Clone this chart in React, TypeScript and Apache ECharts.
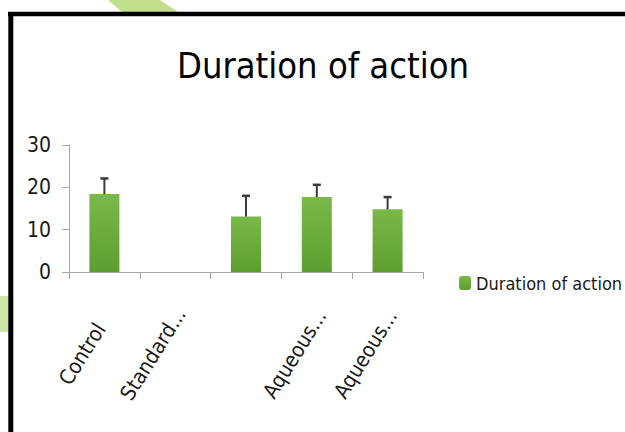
import React, { useEffect, useRef } from "react";
import * as echarts from "echarts";

const categories = ["Control", "Standard...", "", "Aqueous...", "Aqueous..."];
const meanValues: (number | null)[] = [18.4, null, 13.1, 17.7, 14.8];
const errorValues: (number | null)[] = [3.7, null, 4.9, 2.9, 2.9];
const yTicks = { min: 0, max: 30, interval: 10 };
const seriesName = "Duration of action";
const titleText = "Duration of action";

const FONT = "'Liberation Sans Narrow', 'DejaVu Sans Condensed', 'Open Sans', sans-serif";

export default function App() {
  const ref = useRef<HTMLDivElement>(null);
  useEffect(() => {
    if (!ref.current) return;
    const chart = echarts.init(ref.current, undefined, { renderer: "svg" });
    const errData = categories.map((_, i) =>
      meanValues[i] == null || errorValues[i] == null
        ? [i, null, null]
        : [i, meanValues[i], (meanValues[i] as number) + (errorValues[i] as number)]
    );
    chart.setOption({
      animation: false,
      backgroundColor: "#ffffff",
      textStyle: { fontFamily: FONT },
      title: {
        text: titleText,
        left: 318,
        top: 42,
        textAlign: "center",
        textStyle: { fontFamily: FONT, fontSize: 36, fontWeight: "normal", color: "#000" },
      },
      legend: {
        data: [seriesName],
        left: 454,
        top: 269,
        itemWidth: 12,
        itemHeight: 14,
        itemGap: 6,
        textStyle: { fontFamily: FONT, fontSize: 18, color: "#1a1a1a" },
      },
      grid: { left: 69, right: 202, top: 145, bottom: 160, containLabel: false },
      xAxis: {
        type: "category",
        data: categories,
        axisLine: { lineStyle: { color: "#a6a6a6", width: 1 } },
        axisTick: { show: true, length: 7, lineStyle: { color: "#a6a6a6" } },
        axisLabel: {
          interval: 0,
          rotate: 58,
          margin: 47,
          align: "center",
          verticalAlign: "middle",
          padding: [0, 83, 0, 0],
          fontFamily: FONT,
          fontSize: 21,
          color: "#1a1a1a",
        },
      },
      yAxis: {
        type: "value",
        min: yTicks.min,
        max: yTicks.max,
        interval: yTicks.interval,
        splitLine: { show: false },
        axisLine: { show: true, lineStyle: { color: "#a6a6a6", width: 1 } },
        axisTick: { show: true, length: 7, lineStyle: { color: "#a6a6a6" } },
        axisLabel: { margin: 18, fontFamily: FONT, fontSize: 21, color: "#1a1a1a" },
      },
      series: [
        {
          name: seriesName,
          type: "bar",
          data: meanValues,
          barWidth: 30,
          itemStyle: {
            color: new echarts.graphic.LinearGradient(0, 0, 0, 1, [
              { offset: 0, color: "#79b94a" },
              { offset: 1, color: "#5c9e2f" },
            ]),
          },
        },
        {
          name: "err",
          type: "custom",
          data: errData,
          z: 5,
          renderItem: (params: any, api: any) => {
            const lo = api.value(1);
            const hi = api.value(2);
            if (lo == null || hi == null || isNaN(lo) || isNaN(hi)) return null;
            const p0 = api.coord([api.value(0), lo]);
            const p1 = api.coord([api.value(0), hi]);
            const style = { stroke: "#3a3a3a", lineWidth: 2 };
            return {
              type: "group",
              children: [
                { type: "line", shape: { x1: p0[0], y1: p0[1], x2: p1[0], y2: p1[1] }, style },
                { type: "line", shape: { x1: p1[0] - 4, y1: p1[1], x2: p1[0] + 4, y2: p1[1] }, style: { stroke: "#3a3a3a", lineWidth: 2.5 } },
              ],
            };
          },
        },
      ],
      graphic: [
        {
          type: "polygon",
          shape: { points: [[108, 0], [160, 0], [178, 12], [122, 12]] },
          style: { fill: "#c4df8c" },
          z: 100,
        },
        {
          type: "rect",
          shape: { x: 0, y: 296, width: 9, height: 36 },
          style: { fill: "#cfe5a4" },
          z: 100,
        },
        {
          type: "line",
          shape: { x1: 8, y1: 14, x2: 625, y2: 14 },
          style: { stroke: "#000", lineWidth: 4.5 },
          z: 101,
        },
        {
          type: "line",
          shape: { x1: 10.8, y1: 12, x2: 10.8, y2: 432 },
          style: { stroke: "#000", lineWidth: 5 },
          z: 101,
        },
      ],
    });
    return () => chart.dispose();
  }, []);
  return <div ref={ref} style={{ width: 625, height: 432, position: "absolute", left: 0, top: 0 }} />;
}
